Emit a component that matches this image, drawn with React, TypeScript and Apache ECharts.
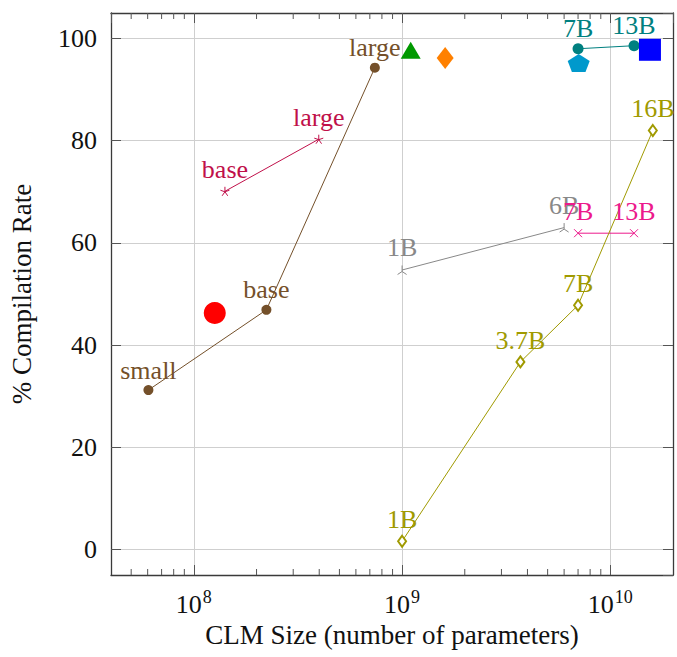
import React, { useEffect, useRef } from "react";
import * as echarts from "echarts";

const FONT = '"Liberation Serif", "DejaVu Serif", serif';

const X_MIN = 4e7;
const X_MAX = 2e10;
const Y_MIN = -5;
const Y_MAX = 105;

const MINOR_TICKS = [
  5e7, 6e7, 7e7, 8e7, 9e7,
  2e8, 3e8, 4e8, 5e8, 6e8, 7e8, 8e8, 9e8,
  2e9, 3e9, 4e9, 5e9, 6e9, 7e9, 8e9, 9e9,
];

// brown series (circles)
const brownX = [6.05e7, 2.23e8, 7.4e8];
const brownY = [31.2, 46.9, 94.3];
const brownNames = ["small", "base", "large"];

// crimson series (stars)
const crimsonX = [1.41e8, 3.98e8];
const crimsonY = [70.1, 80.3];
const crimsonNames = ["base", "large"];

// gray series
const grayX = [1e9, 6e9];
const grayY = [54.7, 63.0];
const grayNames = ["1B", "6B"];

// pink series (x marks)
const pinkX = [7e9, 1.3e10];
const pinkY = [61.9, 61.9];
const pinkNames = ["7B", "13B"];

// olive series (open diamonds)
const oliveX = [1e9, 3.7e9, 7e9, 1.6e10];
const oliveY = [1.6, 36.7, 47.8, 82.0];
const oliveNames = ["1B", "3.7B", "7B", "16B"];

// teal series (filled circles)
const tealX = [7e9, 1.3e10];
const tealY = [98.0, 98.6];
const tealNames = ["7B", "13B"];

// single points
const redPoint = [1.26e8, 46.3];
const greenPoint = [1.1e9, 97.1];
const orangePoint = [1.61e9, 96.2];
const cyanPoint = [7.05e9, 95.0];
const bluePoint = [1.55e10, 97.8];

const STAR5 =
  "path://M0,0 L0,-1 M0,0 L0.951,-0.309 M0,0 L0.588,0.809 M0,0 L-0.588,0.809 M0,0 L-0.951,-0.309";
const XMARK = "path://M-1,-1 L1,1 M-1,1 L1,-1";
const TRI3 = "path://M0,0 L0,-1 M0,0 L0.866,0.5 M0,0 L-0.866,0.5";
const PENTAGON =
  "path://M0,-1 L0.951,-0.309 L0.588,0.809 L-0.588,0.809 L-0.951,-0.309 Z";

const LABEL_SIZE = 26;

function lineSeries(
  xs: number[],
  ys: number[],
  names: string[],
  color: string,
  symbol: string,
  size: any,
  itemStyle: any
) {
  return {
    type: "line",
    data: xs.map((x, i) => [x, ys[i]]),
    symbol,
    symbolSize: size,
    showSymbol: true,
    showAllSymbol: true,
    lineStyle: { color, width: 1 },
    itemStyle,
    label: {
      show: true,
      position: "top",
      distance: 2,
      color,
      fontFamily: FONT,
      fontSize: LABEL_SIZE,
      formatter: (p: any) => names[p.dataIndex],
    },
    emphasis: { disabled: true },
    z: 3,
  };
}

function pointSeries(pt: number[], color: string, symbol: string, size: any, offset?: number[]) {
  return {
    type: "scatter",
    data: [pt],
    symbol,
    symbolSize: size,
    symbolOffset: offset || [0, 0],
    itemStyle: { color, opacity: 1 },
    emphasis: { disabled: true },
    z: 4,
  };
}

export default function App() {
  const ref = useRef<HTMLDivElement>(null);
  useEffect(() => {
    if (!ref.current) return;
    const chart = echarts.init(ref.current, undefined, { renderer: "svg" });
    const axisLineStyle = { color: "#3a3a3a", width: 1.3 };
    const tickStyle = { color: "#555", width: 1 };
    const option: any = {
      animation: false,
      backgroundColor: "#fff",
      grid: { left: 111, right: 4, top: 13, bottom: 82, containLabel: false },
      xAxis: [
        {
          type: "log",
          logBase: 10,
          min: X_MIN,
          max: X_MAX,
          position: "bottom",
          axisLine: { show: true, onZero: false, lineStyle: axisLineStyle },
          axisTick: { show: true, inside: true, length: 10, lineStyle: tickStyle },
          axisLabel: {
            show: true,
            showMinLabel: false,
            showMaxLabel: false,
            margin: 13,
            color: "#111",
            formatter: (v: number) => `{b|10}{s|${Math.round(Math.log10(v))}}`,
            rich: {
              b: { fontFamily: FONT, fontSize: 26, color: "#111", verticalAlign: "bottom" },
              s: {
                fontFamily: FONT,
                fontSize: 18,
                color: "#111",
                verticalAlign: "bottom",
                padding: [0, 0, 11, 1],
              },
            },
          },
          splitLine: { show: true, lineStyle: { color: "#cfcfcf", width: 1 } },
          name: "CLM Size (number of parameters)",
          nameLocation: "middle",
          nameGap: 45,
          nameTextStyle: { fontFamily: FONT, fontSize: 27, color: "#111" },
        },
        {
          type: "log",
          logBase: 10,
          min: X_MIN,
          max: X_MAX,
          position: "top",
          axisLine: { show: true, onZero: false, lineStyle: axisLineStyle },
          axisTick: { show: true, inside: true, length: 10, lineStyle: tickStyle },
          axisLabel: { show: false },
          splitLine: { show: false },
        },
      ],
      yAxis: [
        {
          type: "value",
          min: Y_MIN,
          max: Y_MAX,
          splitNumber: 5,
          position: "left",
          axisLine: { show: true, onZero: false, lineStyle: axisLineStyle },
          axisTick: { show: true, inside: true, length: 10, lineStyle: tickStyle },
          axisLabel: {
            show: true,
            showMinLabel: false,
            showMaxLabel: false,
            margin: 14,
            color: "#111",
            fontFamily: FONT,
            fontSize: 26,
          },
          splitLine: { show: true, lineStyle: { color: "#cfcfcf", width: 1 } },
          name: "% Compilation Rate",
          nameLocation: "middle",
          nameGap: 76,
          nameTextStyle: { fontFamily: FONT, fontSize: 27, color: "#111" },
        },
        {
          type: "value",
          min: Y_MIN,
          max: Y_MAX,
          splitNumber: 5,
          position: "right",
          axisLine: { show: true, onZero: false, lineStyle: axisLineStyle },
          axisTick: { show: true, inside: true, length: 10, lineStyle: tickStyle },
          axisLabel: { show: false },
          splitLine: { show: false },
        },
      ],
      series: [
        {
          type: "custom",
          xAxisIndex: 0,
          yAxisIndex: 0,
          silent: true,
          clip: false,
          data: MINOR_TICKS.map((v) => [v, Y_MIN]),
          encode: { x: 0, y: 1 },
          renderItem: (_params: any, api: any) => {
            const v = api.value(0);
            const b = api.coord([v, Y_MIN]);
            const t = api.coord([v, Y_MAX]);
            return {
              type: "group",
              children: [
                {
                  type: "line",
                  shape: { x1: b[0], y1: b[1], x2: b[0], y2: b[1] - 6 },
                  style: { stroke: "#555", lineWidth: 1 },
                },
                {
                  type: "line",
                  shape: { x1: t[0], y1: t[1], x2: t[0], y2: t[1] + 6 },
                  style: { stroke: "#555", lineWidth: 1 },
                },
              ],
            };
          },
          z: 5,
        },
        lineSeries(brownX, brownY, brownNames, "#74502a", "circle", 10, { color: "#74502a" }),
        lineSeries(crimsonX, crimsonY, crimsonNames, "#c0104a", STAR5, 9, {
          color: "none",
          borderColor: "#c0104a",
          borderWidth: 1,
        }),
        lineSeries(grayX, grayY, grayNames, "#888888", TRI3, 9, {
          color: "none",
          borderColor: "#888888",
          borderWidth: 1,
        }),
        lineSeries(pinkX, pinkY, pinkNames, "#ec1a8c", XMARK, 8, {
          color: "none",
          borderColor: "#ec1a8c",
          borderWidth: 1,
        }),
        lineSeries(oliveX, oliveY, oliveNames, "#a09a00", "emptyDiamond", [8, 11], {
          color: "#a09a00",
          borderColor: "#a09a00",
          borderWidth: 1,
        }),
        lineSeries(tealX, tealY, tealNames, "#008080", "circle", 11, { color: "#008080" }),
        pointSeries(redPoint, "#ff0000", "circle", 22),
        pointSeries(greenPoint, "#009900", "triangle", [20, 17], [0, -3]),
        pointSeries(orangePoint, "#ff8000", "diamond", [17, 22]),
        pointSeries(cyanPoint, "#0099cc", PENTAGON, [22, 18], [0, -1]),
        pointSeries(bluePoint, "#0000ff", "rect", 22),
      ],
    };
    chart.setOption(option);
    return () => chart.dispose();
  }, []);
  return (
    <div
      ref={ref}
      style={{ position: "absolute", left: 0, top: 0, width: 677, height: 657 }}
    />
  );
}
